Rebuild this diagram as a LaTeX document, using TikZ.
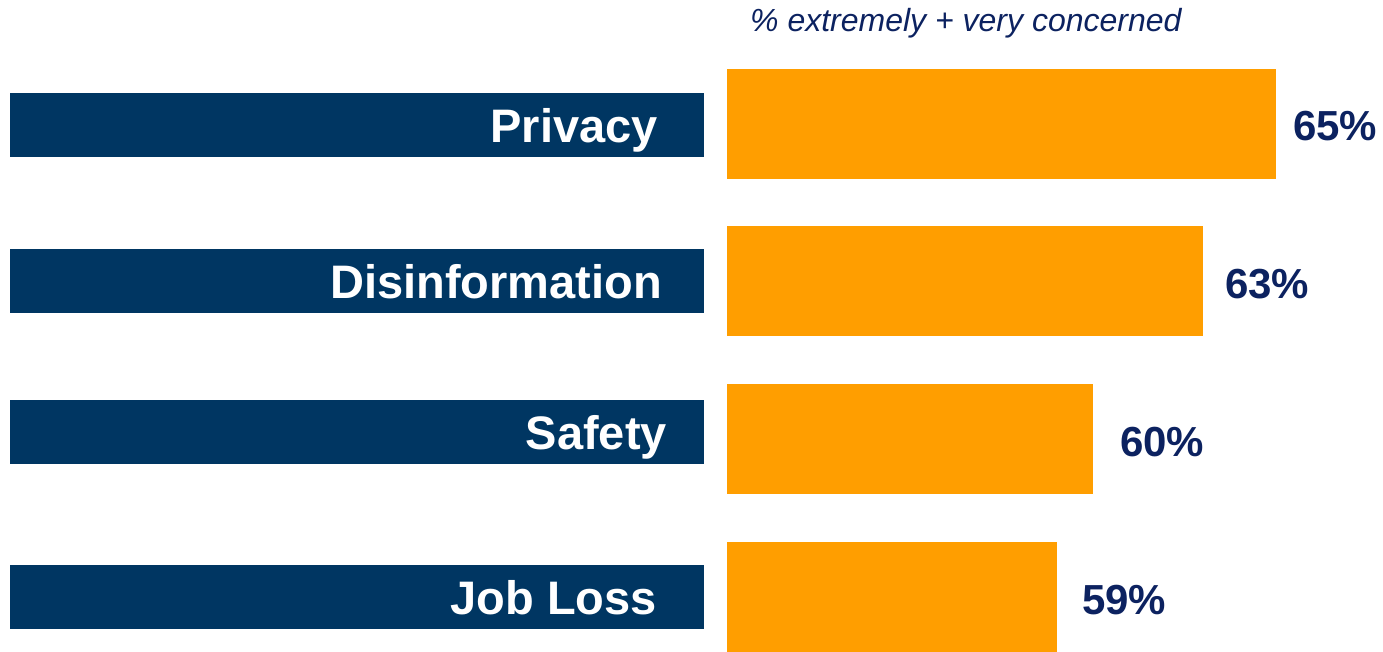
\documentclass[tikz,border=0pt]{standalone}
\usepackage{fontspec}
\setmainfont{Liberation Sans}
\definecolor{navybar}{RGB}{0,54,98}
\definecolor{orangebar}{RGB}{255,158,0}
\definecolor{labelblue}{RGB}{12,34,96}
\begin{document}
\begin{tikzpicture}[x=1pt,y=-1pt,
  bluebar/.style={fill=navybar,draw=none,inner sep=0,anchor=north west},
  orangebarstyle/.style={fill=orangebar,draw=none,inner sep=0,anchor=north west},
  cat/.style={text=white,font=\fontsize{47}{47}\selectfont\bfseries,inner sep=0,anchor=base east},
  val/.style={text=labelblue,font=\fontsize{42}{42}\selectfont\bfseries,inner sep=0,anchor=base west},
  sub/.style={text=labelblue,font=\fontsize{32}{32}\selectfont\itshape,inner sep=0,anchor=base west}]
\useasboundingbox (0,0) rectangle (1383,651);
\node[sub] (title) at (750,31) {\% extremely + very concerned};
% blue category bars
\node[bluebar,minimum width=694pt,minimum height=64pt] (b1) at (10,93) {};
\node[bluebar,minimum width=694pt,minimum height=64pt] (b2) at (10,249) {};
\node[bluebar,minimum width=694pt,minimum height=64pt] (b3) at (10,400) {};
\node[bluebar,minimum width=694pt,minimum height=64pt] (b4) at (10,565) {};
\node[cat] (c1) at (658,142) {Privacy};
\node[cat] (c2) at (662,298) {Disinformation};
\node[cat] (c3) at (667,449) {Safety};
\node[cat] (c4) at (657,614) {Job Loss};
% orange value bars
\node[orangebarstyle,minimum width=549pt,minimum height=110pt] (o1) at (727,69) {};
\node[orangebarstyle,minimum width=476pt,minimum height=110pt] (o2) at (727,226) {};
\node[orangebarstyle,minimum width=366pt,minimum height=110pt] (o3) at (727,384) {};
\node[orangebarstyle,minimum width=330pt,minimum height=110pt] (o4) at (727,542) {};
\node[val] (v1) at (1293,140) {65\%};
\node[val] (v2) at (1225,298) {63\%};
\node[val] (v3) at (1120,456) {60\%};
\node[val] (v4) at (1082,614) {59\%};
\end{tikzpicture}
\end{document}
